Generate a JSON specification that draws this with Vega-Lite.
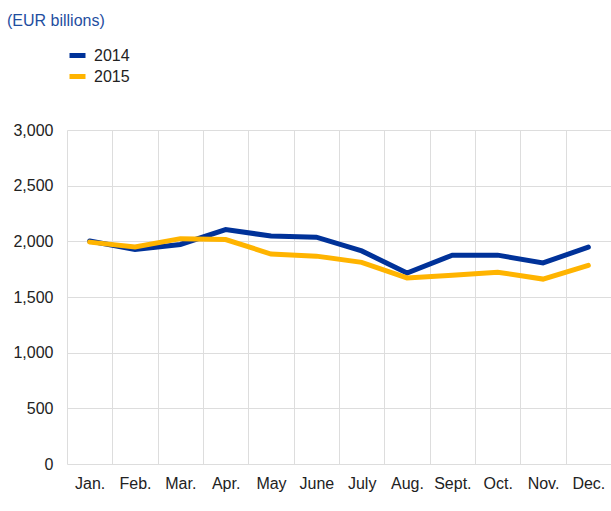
{
  "$schema": "https://vega.github.io/schema/vega-lite/v6.json",
  "autosize": "none",
  "width": 544,
  "height": 334,
  "padding": {"left": 67, "top": 130, "right": 0, "bottom": 47},
  "background": "white",
  "title": {
    "text": "(EUR billions)",
    "anchor": "start",
    "frame": "group",
    "dx": -60,
    "dy": -12,
    "font": "Liberation Sans",
    "fontSize": 16,
    "fontWeight": "normal",
    "color": "#1f4e9f"
  },
  "config": {
    "view": {"stroke": null},
    "font": "Liberation Sans",
    "axis": {
      "labelFont": "Liberation Sans",
      "labelFontSize": 16,
      "labelColor": "#222222",
      "gridColor": "#dddddd",
      "gridWidth": 1,
      "domain": false,
      "ticks": false,
      "title": null
    },
    "legend": {
      "labelFont": "Liberation Sans",
      "labelFontSize": 16,
      "labelColor": "#222222"
    }
  },
  "data": {
    "values": [
      {"month": "Jan.", "year": "2014", "value": 2003},
      {"month": "Feb.", "year": "2014", "value": 1927},
      {"month": "Mar.", "year": "2014", "value": 1972},
      {"month": "Apr.", "year": "2014", "value": 2105},
      {"month": "May", "year": "2014", "value": 2048},
      {"month": "June", "year": "2014", "value": 2037},
      {"month": "July", "year": "2014", "value": 1914},
      {"month": "Aug.", "year": "2014", "value": 1716},
      {"month": "Sept.", "year": "2014", "value": 1876},
      {"month": "Oct.", "year": "2014", "value": 1876},
      {"month": "Nov.", "year": "2014", "value": 1806},
      {"month": "Dec.", "year": "2014", "value": 1948},
      {"month": "Jan.", "year": "2015", "value": 1993},
      {"month": "Feb.", "year": "2015", "value": 1950},
      {"month": "Mar.", "year": "2015", "value": 2024},
      {"month": "Apr.", "year": "2015", "value": 2016},
      {"month": "May", "year": "2015", "value": 1886},
      {"month": "June", "year": "2015", "value": 1867},
      {"month": "July", "year": "2015", "value": 1811},
      {"month": "Aug.", "year": "2015", "value": 1671},
      {"month": "Sept.", "year": "2015", "value": 1696},
      {"month": "Oct.", "year": "2015", "value": 1723},
      {"month": "Nov.", "year": "2015", "value": 1661},
      {"month": "Dec.", "year": "2015", "value": 1784}
    ]
  },
  "mark": {"type": "line", "strokeWidth": 5, "strokeCap": "round", "strokeJoin": "miter"},
  "encoding": {
    "x": {
      "field": "month",
      "type": "nominal",
      "sort": null,
      "bandPosition": 0.5,
      "scale": {"type": "band", "paddingInner": 0, "paddingOuter": 0},
      "axis": {"labelAngle": 0, "tickBand": "extent", "grid": true, "labelPadding": 11}
    },
    "y": {
      "field": "value",
      "type": "quantitative",
      "scale": {"domain": [0, 3000], "nice": false},
      "axis": {"values": [0, 500, 1000, 1500, 2000, 2500, 3000], "format": ",.0f", "labelPadding": 14}
    },
    "color": {
      "field": "year",
      "type": "nominal",
      "scale": {"domain": ["2014", "2015"], "range": ["#003299", "#ffb400"]},
      "legend": {
        "title": null,
        "orient": "none",
        "legendX": 0,
        "legendY": -85,
        "symbolType": "stroke",
        "symbolSize": 256,
        "symbolStrokeWidth": 5,
        "symbolOpacity": 1,
        "rowPadding": -1,
        "labelOffset": 6
      }
    }
  }
}
